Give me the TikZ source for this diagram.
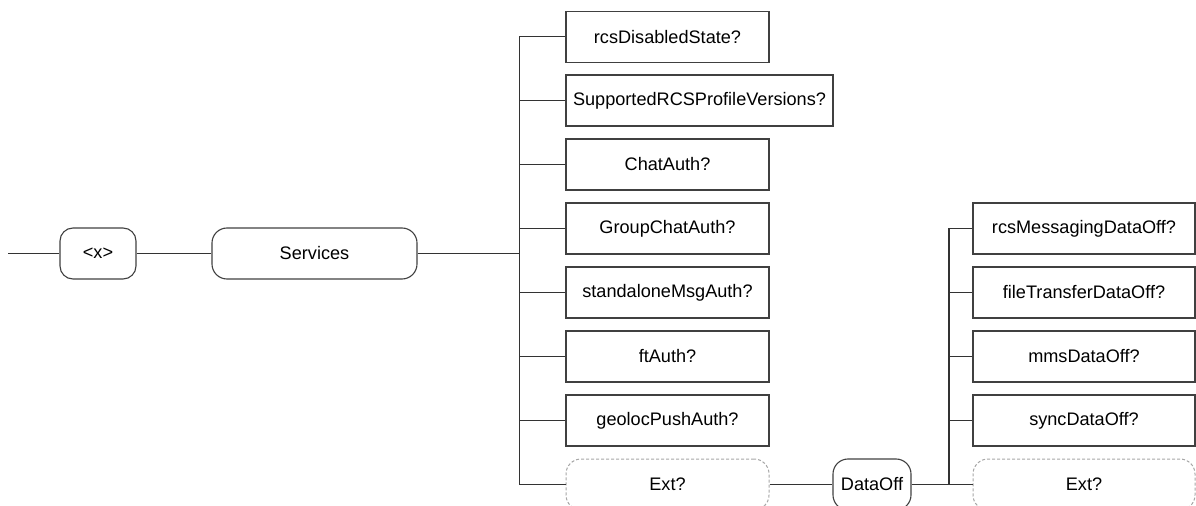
\documentclass[tikz,border=0pt]{standalone}
\usepackage{fontspec}
\setmainfont{Liberation Sans}
\begin{document}
\begin{tikzpicture}[x=1bp,y=-1bp,
  every node/.style={font=\fontsize{18.2}{21}\selectfont, text=black, inner sep=0pt},
  elem/.style={draw=black!75, line width=1.1bp, minimum height=51bp},
  relem/.style={elem, rounded corners=13bp},
  opt/.style={draw=black!35, dashed, dash pattern=on 3bp off 2bp, line width=1bp, rounded corners=15bp, minimum height=51bp},
  conn/.style={draw=black!80, line width=1bp}]
\useasboundingbox (0,0) rectangle (1196,506);
% left chain
\coordinate (start) at (8,253.5);
\node[relem, minimum width=76bp] (x) at (98,253.5) {<x>};
\node[relem, minimum width=205bp, rounded corners=15bp] (services) at (314.5,253.5) {Services};
\coordinate (bus) at (519,253.5);
\coordinate (bustop) at (519,37);
\coordinate (busbot) at (519,484.5);
\draw[conn] (start) -- (x.west);
\draw[conn] (x.east) -- (services.west);
\draw[conn] (services.east) -- (bus);
\draw[conn] (bustop) -- (busbot);
% first column
\node[elem, minimum width=203bp] (c1) at (667.5,37) {rcsDisabledState?};
\node[elem, minimum width=267bp] (c2) at (699.5,100.5) {SupportedRCSProfileVersions?};
\node[elem, minimum width=203bp] (c3) at (667.5,164.5) {ChatAuth?};
\node[elem, minimum width=203bp] (c4) at (667.5,228.5) {GroupChatAuth?};
\node[elem, minimum width=203bp] (c5) at (667.5,292.5) {standaloneMsgAuth?};
\node[elem, minimum width=203bp] (c6) at (667.5,356.5) {ftAuth?};
\node[elem, minimum width=203bp] (c7) at (667.5,420.5) {geolocPushAuth?};
\node[opt, minimum width=203bp] (c8) at (667.5,484.5) {Ext?};
\foreach \n in {c1,c2,c3,c4,c5,c6,c7,c8}{
  \draw[conn] (\n.west) -- (\n.west -| bus);
}
% DataOff
\node[relem, minimum width=78bp, rounded corners=15bp] (dataoff) at (872,484.5) {DataOff};
\draw[conn] (c8.east) -- (dataoff.west);
\coordinate (bus2) at (949,484.5);
\coordinate (bus2top) at (949,228.5);
\draw[conn, line width=1.6bp] (dataoff.east) -- (bus2);
\draw[conn, line width=1.4bp] (bus2top) -- (bus2);
% second column
\node[elem, minimum width=222bp] (d1) at (1084,228.5) {rcsMessagingDataOff?};
\node[elem, minimum width=222bp] (d2) at (1084,292.5) {fileTransferDataOff?};
\node[elem, minimum width=222bp] (d3) at (1084,356.5) {mmsDataOff?};
\node[elem, minimum width=222bp] (d4) at (1084,420.5) {syncDataOff?};
\node[opt, minimum width=222bp] (d5) at (1084,484.5) {Ext?};
\foreach \n in {d1,d2,d3,d4,d5}{
  \draw[conn] (\n.west) -- (\n.west -| bus2);
}
\end{tikzpicture}
\end{document}
